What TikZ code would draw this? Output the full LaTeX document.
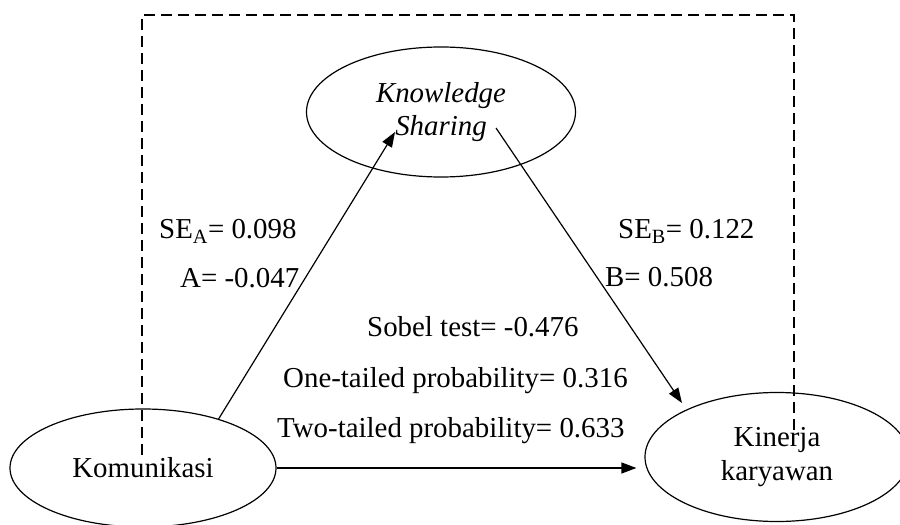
\documentclass[tikz,border=0pt]{standalone}
\usepackage{fontspec}
\setmainfont{Liberation Serif}
\usetikzlibrary{arrows.meta,shapes.geometric}
\begin{document}
\begin{tikzpicture}[x=1bp,y=-1bp,
  every node/.style={font=\fontsize{29}{34}\selectfont},
  oval/.style={draw,ellipse,line width=1.2bp,inner sep=0,align=center},
  arr/.style={line width=1.2bp,-{Triangle[length=15bp,width=11bp]}},
  lab/.style={anchor=base west,inner sep=0},
  frame/.style={line width=1.3bp,dash pattern=on 11bp off 6bp}]
\useasboundingbox (0,0) rectangle (900,525);
% dashed frame
\coordinate (fl) at (142,455);
\coordinate (ftl) at (142,15);
\coordinate (ftr) at (794,15);
\coordinate (fr) at (794,430);
\draw[frame] (fl) -- (ftl) -- (ftr) -- (fr);
% ellipses
\node[oval,minimum width=269bp,minimum height=130bp,font=\fontsize{29}{33}\selectfont\itshape] (KS) at (441,112) {Knowledge\\Sharing};
\node[oval,minimum width=266bp,minimum height=118bp,fill=white] (Kom) at (143,468) {Komunikasi};
\node[oval,minimum width=264bp,minimum height=129bp,fill=white] (Kin) at (777,457) {Kinerja\\karyawan};
% redraw frame ends over ellipses (the dashed lines pass into the ellipses)
\coordinate (fl2) at (142,408);
\coordinate (fr2) at (794,390);
\draw[frame] (fl) -- (fl2);
\draw[frame] (fr) -- (fr2);
% arrows
\coordinate (ksin) at (395,132);
\coordinate (ksout) at (496,128);
\coordinate (kintip) at (682,403);
\draw[arr] (Kom.33) -- (ksin);
\draw[arr] (ksout) -- (kintip);
\draw[arr,shorten >=8bp] (Kom.east) -- (Kom.east -| Kin.west);
% labels
\node[lab] (sea) at (159,239) {SE\textsubscript{A}= 0.098};
\node[lab] (a) at (180,288) {A= -0.047};
\node[lab] (seb) at (618,239) {SE\textsubscript{B}= 0.122};
\node[lab] (b) at (605,287) {B= 0.508};
\node[lab] (sobel) at (367,337) {Sobel test= -0.476};
\node[lab] (one) at (283,387) {One-tailed probability= 0.316};
\node[lab] (two) at (277,437) {Two-tailed probability= 0.633};
\end{tikzpicture}
\end{document}
